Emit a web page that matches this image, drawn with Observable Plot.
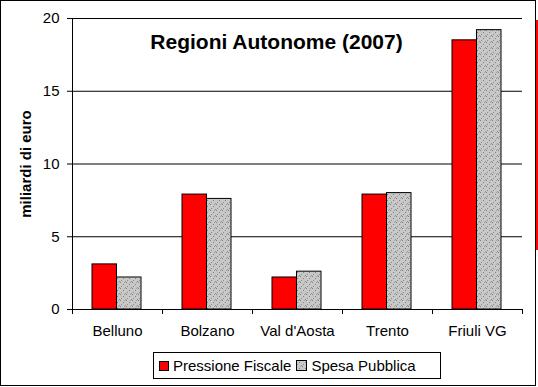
<!DOCTYPE html>
<html>
<head>
<meta charset="utf-8">
<script src="https://cdn.jsdelivr.net/npm/d3@7"></script>
<script src="https://cdn.jsdelivr.net/npm/@observablehq/plot@0.6"></script>
<style>
  html, body { margin: 0; padding: 0; background: #fff; }
  #wrap { position: relative; width: 538px; height: 387px; font-family: Arial, "Liberation Sans", sans-serif; overflow: hidden; }
  #frame { position: absolute; left: 0; top: 0; width: 536px; height: 386px; border: 1px solid #000; box-sizing: border-box; pointer-events: none; }
  #strip { position: absolute; left: 536px; top: 20px; width: 2px; height: 230px; background: #ff0000; }
  #legend { position: absolute; left: 153px; top: 352px; width: 288px; height: 27px; border: 1px solid #000; box-sizing: border-box; display: flex; align-items: center; font-size: 15px; background: #fff; }
  .sw { display: inline-block; width: 10px; height: 10px; border: 1px solid #000; box-sizing: border-box; margin: 0 4px 0 5px; }
  .item { display: flex; align-items: center; white-space: nowrap; }
  #plot svg { display: block; }
</style>
</head>
<body>
<svg width="0" height="0" style="position:absolute">
  <defs>
    <pattern id="dots" width="6" height="6" patternUnits="userSpaceOnUse">
      <rect width="6" height="6" fill="#c8c8c8"></rect>
      <rect x="0" y="0" width="1" height="1" fill="#808080"></rect>
      <rect x="3" y="2" width="1" height="1" fill="#808080"></rect>
      <rect x="1" y="4" width="1" height="1" fill="#8c8c8c"></rect>
      <rect x="5" y="5" width="1" height="1" fill="#909090"></rect>
      <rect x="4" y="0" width="1" height="1" fill="#a0a0a0"></rect>
    </pattern>
  </defs>
</svg>
<div id="wrap">
  <div id="plot"></div>
  <div id="legend">
    <span class="item"><span class="sw" style="background:#ff0000"></span>Pressione Fiscale</span>
    <span class="item"><span class="sw" style="background:#c8c8c8"></span>Spesa Pubblica</span>
  </div>
  <div id="frame"></div>
  <div id="strip"></div>
</div>
<script>
const categories = ["Belluno", "Bolzano", "Val d'Aosta", "Trento", "Friuli VG"];
const pressioneFiscale = [3.1, 7.9, 2.2, 7.9, 18.5];
const spesaPubblica = [2.2, 7.6, 2.6, 8.0, 19.2];
const yTicks = [0, 5, 10, 15, 20];
const title = "Regioni Autonome (2007)";
const yLabel = "miliardi di euro";

const redRows = categories.map((c, i) => ({cat: c, v: pressioneFiscale[i]}));
const grayRows = categories.map((c, i) => ({cat: c, v: spesaPubblica[i]}));

const font = 'Arial, "Liberation Sans", sans-serif';

const chart = Plot.plot({
  width: 538,
  height: 345,
  marginLeft: 72,
  marginRight: 16,
  marginTop: 18,
  marginBottom: 36,
  style: {fontFamily: font, fontSize: "15px", color: "#000", background: "transparent", overflow: "visible"},
  x: {domain: categories, padding: 0, axis: null},
  y: {domain: [0, 20], axis: null},
  marks: [
    Plot.ruleY(yTicks.filter(d => d > 0), {stroke: "#000", strokeWidth: 1}),
    Plot.barY(redRows, {x: "cat", y: "v", fill: "#ff0000", stroke: "#000", strokeWidth: 1, insetLeft: 20, insetRight: 45.5}),
    Plot.barY(grayRows, {x: "cat", y: "v", fill: "url(#dots)", stroke: "#000", strokeWidth: 1, insetLeft: 44.5, insetRight: 21}),
    Plot.ruleY([0], {stroke: "#000"}),
    Plot.ruleX([categories[0]], {dx: -45, y1: 0, y2: 20, stroke: "#000"}),
    Plot.axisY({ticks: yTicks, tickSize: 5, tickPadding: 8, label: null, fontSize: 15, stroke: "#000"}),
    Plot.ruleX(categories, {x: d => d, dx: -45, y1: 0, y2: 0, insetBottom: -5, stroke: "#000"}),
    Plot.ruleX([categories[categories.length - 1]], {x: d => d, dx: 45, y1: 0, y2: 0, insetBottom: -5, stroke: "#000"}),
    Plot.axisX({tickSize: 0, tickPadding: 16, label: null, fontSize: 15}),
    Plot.text([title], {frameAnchor: "top", dx: -21, dy: 24, lineAnchor: "middle", fontSize: 21, fontWeight: "bold", fill: "#000"}),
    Plot.text([yLabel], {frameAnchor: "left", dx: -46, rotate: -90, textAnchor: "middle", lineAnchor: "middle", fontSize: 15, fontWeight: "bold", fill: "#000"})
  ]
});
document.getElementById("plot").appendChild(chart);

// legend swatch with the dotted pattern
const sw2 = document.querySelectorAll("#legend .sw")[1];
sw2.outerHTML = '<svg width="11" height="11" style="margin:0 4px 0 5px;display:inline-block"><rect x="0.5" y="0.5" width="10" height="10" fill="url(#dots)" stroke="#000"></rect></svg>';
</script>
</body>
</html>
